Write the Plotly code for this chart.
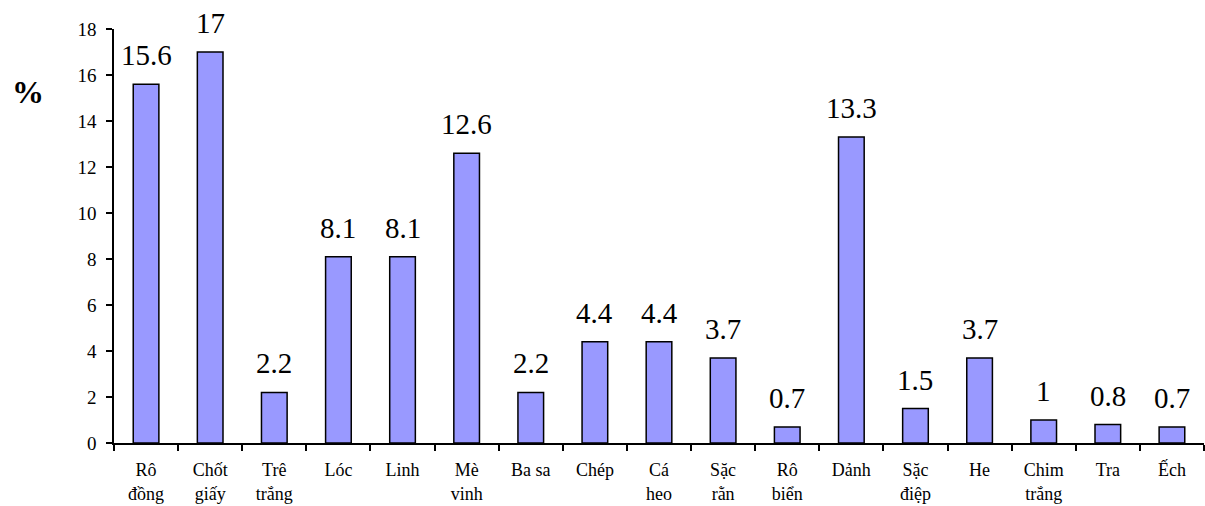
import plotly.graph_objects as go

# Fish species and their share (%)
categories = ["Rô<br>đồng", "Chốt<br>giấy", "Trê<br>trắng", "Lóc", "Linh", "Mè<br>vinh",
              "Ba sa", "Chép", "Cá<br>heo", "Sặc<br>rằn", "Rô<br>biển", "Dảnh",
              "Sặc<br>điệp", "He", "Chim<br>trắng", "Tra", "Ếch"]
values = [15.6, 17, 2.2, 8.1, 8.1, 12.6, 2.2, 4.4, 4.4, 3.7, 0.7, 13.3, 1.5, 3.7, 1, 0.8, 0.7]
value_labels = ["15.6", "17", "2.2", "8.1", "8.1", "12.6", "2.2", "4.4", "4.4", "3.7",
                "0.7", "13.3", "1.5", "3.7", "1", "0.8", "0.7"]
y_ticks = [0, 2, 4, 6, 8, 10, 12, 14, 16, 18]

SERIF = "Liberation Serif"
W, H = 1205, 506
ML, MR, MT, MB = 114, 1, 29, 63

fig = go.Figure(go.Bar(
    x=categories, y=values,
    marker=dict(color="#9999FF", line=dict(color="black", width=1.5)),
))

for c, v, t in zip(categories, values, value_labels):
    fig.add_annotation(x=c, y=v, text=t, showarrow=False, yanchor="bottom",
                       yshift=11, font=dict(family=SERIF, size=29, color="black"))

# axis title "%"
fig.add_annotation(xref="paper", yref="paper",
                   x=(28 - ML) / (W - ML - MR), y=(H - MB - 92) / (H - MT - MB),
                   xanchor="center", yanchor="middle",
                   text="<b>%</b>", showarrow=False,
                   font=dict(family=SERIF, size=32, color="black"))

fig.update_layout(
    width=W, height=H,
    margin=dict(l=ML, r=MR, t=MT, b=MB, autoexpand=False),
    plot_bgcolor="white", paper_bgcolor="white",
    bargap=0.6, showlegend=False,
    font=dict(family=SERIF, color="black"),
)
fig.update_xaxes(
    showline=True, linecolor="black", linewidth=1.5,
    ticks="outside", tickson="boundaries", ticklen=6, tickcolor="black", tickwidth=1.5,
    tickfont=dict(family=SERIF, size=18, color="black"),
    ticklabelstandoff=10, showgrid=False, tickangle=0, automargin=False,
)
fig.update_yaxes(
    range=[0, 18], tickvals=y_ticks,
    showline=True, linecolor="black", linewidth=1.5,
    ticks="outside", ticklen=6, tickcolor="black", tickwidth=1.5,
    tickfont=dict(family=SERIF, size=19, color="black"),
    showgrid=False, zeroline=False, ticklabelstandoff=6, automargin=False,
)

fig.write_html("out.html")
